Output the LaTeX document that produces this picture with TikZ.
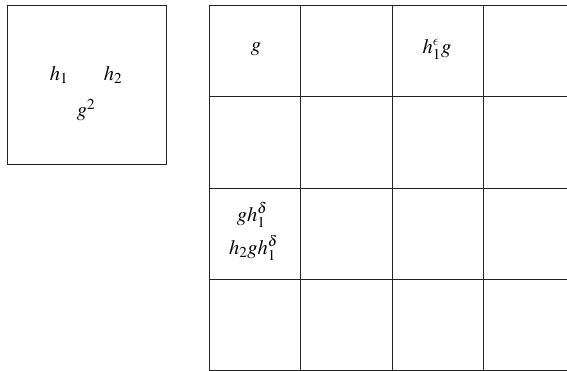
\documentclass[tikz,border=0pt]{standalone}
\usepackage{mathptmx}
\DeclareSymbolFont{cmletters}{OML}{cmm}{m}{it}
\DeclareMathSymbol{\lunateeps}{\mathord}{cmletters}{"0F}
\tikzset{
  cellbox/.style={draw={rgb,255:red,35;green,35;blue,35},line width=0.8pt,minimum width=91.3pt,minimum height=91.3pt,inner sep=0pt,outer sep=0pt},
  lbl/.style={inner sep=0pt,outer sep=0pt,font=\fontsize{20.5}{24}\selectfont}
}
\begin{document}
\begin{tikzpicture}[x=1pt,y=-1pt]
\path[use as bounding box] (0,0) rectangle (567,370);
\clip (0,0) rectangle (567,370);
\path[fill=white,draw=none] (0,0) rectangle (567,370);
% left box
\node[cellbox,minimum width=159pt,minimum height=158.5pt] (orbit) at (86.5,85) {};
\node[lbl] (h1) at (59,75) {$h_1$};
\node[lbl] (h2) at (113,75) {$h_2$};
\node[lbl] (gsq) at (86,110) {$g^2$};
% grid, last column runs off the page
\foreach \r in {0,...,3}{
  \foreach \c in {0,...,3}{
    \node[cellbox] (cell-\r-\c) at ({255+91.3*\c},{51+91.3*\r}) {};
  }
}
\node[lbl] (g) at (256,49) {$g$};
\node[lbl] (hg) at (437,49) {$h_1^{\lunateeps}g$};
\node[lbl] (gh) at (252,215) {$gh_1^{\delta}$};
\node[lbl] (hgh) at (253.5,248) {$h_2gh_1^{\delta}$};
\end{tikzpicture}
\end{document}
